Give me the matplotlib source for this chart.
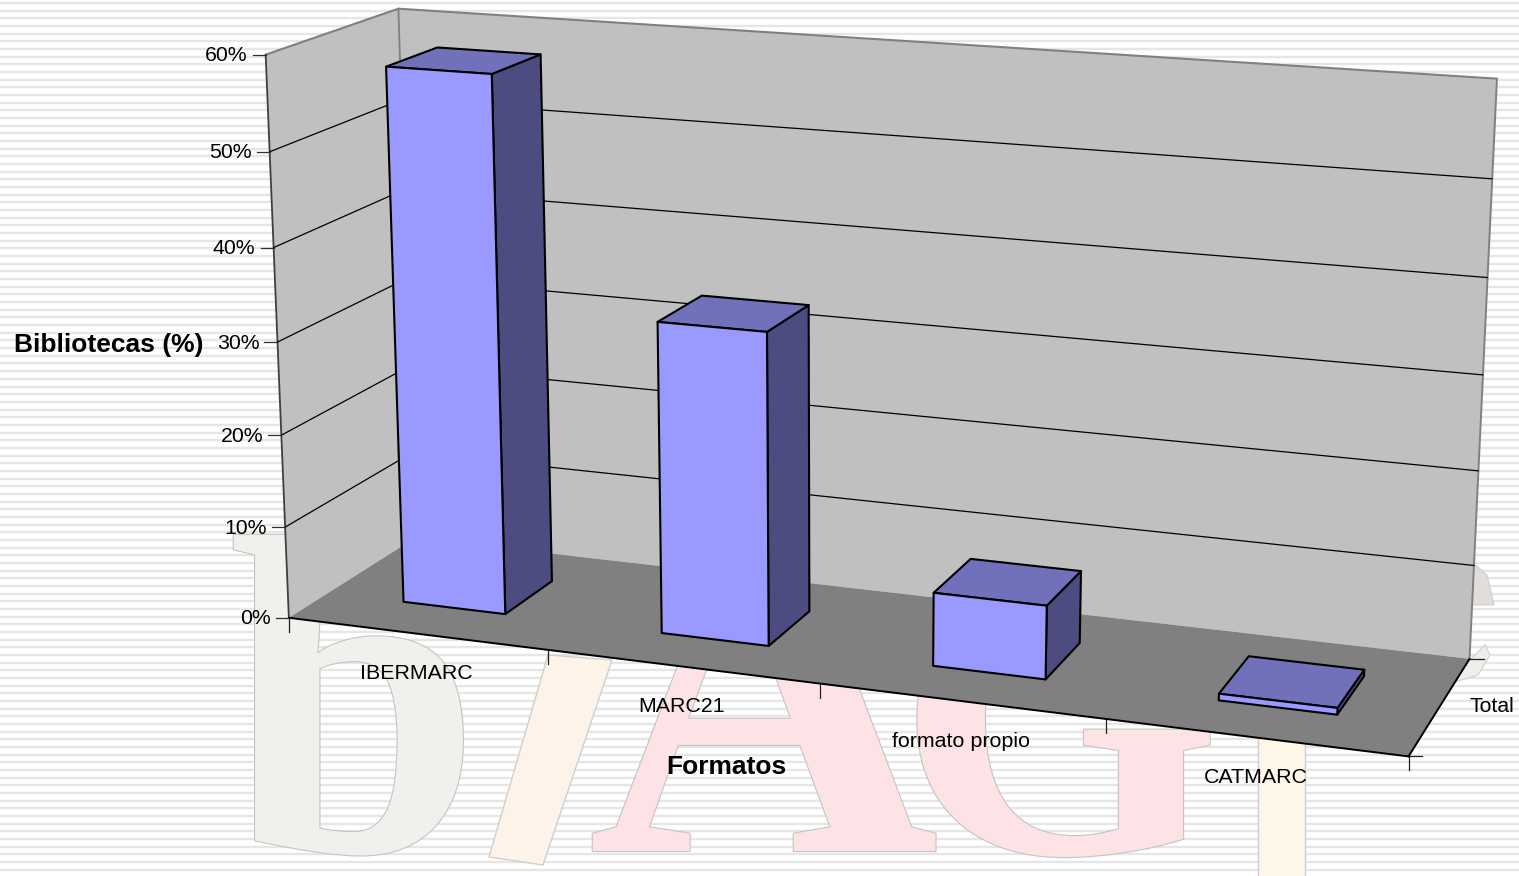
import numpy as np
import matplotlib
matplotlib.use('Agg')
import matplotlib.pyplot as plt
from matplotlib.patches import Polygon
import matplotlib.patheffects as pe

categories = ['IBERMARC', 'MARC21', 'formato propio', 'CATMARC']
values = [57.8, 33.4, 7.8, 0.7]
value_ticks = [0, 10, 20, 30, 40, 50, 60]
series_name = 'Total'

BAR_W = 0.4
BAR_D = 0.4

WALL = '#C0C0C0'
FLOOR = '#808080'
FRONT = '#9999FF'
TOP = '#7070BB'
SIDE = '#4C4C80'
FONT = 'Liberation Sans'

# chart box corners (slot, depth, value) -> picture pixels
box = [(0, 0, 0), (4, 0, 0), (4, 1, 0), (0, 1, 0), (0, 0, 60), (0, 1, 60), (4, 1, 60)]
px = [(289, 617), (1408, 758), (1470, 657), (415, 539), (266, 54), (398, 9), (1497, 79)]


def fit_camera(src, dst):
    rows, rhs = [], []
    for (x, d, v), (u, w) in zip(src, dst):
        rows.append([x, d, v, 1, 0, 0, 0, 0, -u * x, -u * d, -u * v])
        rows.append([0, 0, 0, 0, x, d, v, 1, -w * x, -w * d, -w * v])
        rhs += [u, w]
    m = np.linalg.lstsq(np.array(rows, float), np.array(rhs, float), rcond=None)[0]
    return np.append(m, 1).reshape(3, 4)


CAM = fit_camera(box, px)


def proj(x, d, v):
    p = CAM @ np.array([x, d, v, 1.0])
    return p[0] / p[2], p[1] / p[2]


fig = plt.figure(figsize=(15.19, 8.76), dpi=100, facecolor='white')
ax = fig.add_axes([0, 0, 1, 1])
ax.set_xlim(0, 1519)
ax.set_ylim(876, 0)
ax.axis('off')

# slide background: stripes and the big pale logo letters
for y in np.arange(3, 876, 7.67):
    ax.plot([0, 1519], [y, y], color='#E6E6E6', lw=1.7, zorder=0)

edge = [pe.withStroke(linewidth=1.6, foreground='#C4C4C4')]
logo = dict(family='Liberation Serif', weight='bold', zorder=1, path_effects=edge)
ax.text(228, 851, 'b', fontsize=328, color='#F0F0EC', **logo)
ax.add_patch(Polygon([(489, 857), (543, 865), (612, 660), (548, 655)], fc='#FDF3E8', ec='#CFCFCF', lw=1, zorder=1))
ax.text(588, 851, 'A', fontsize=350, color='#FDE3E5', **logo)
ax.text(897, 853, 'G', fontsize=300, color='#FDE3E5', **logo)
ax.add_patch(Polygon([(1258, 730), (1305, 730), (1305, 880), (1258, 880)], fc='#FEF6E6', ec='#CFCFCF', lw=1, zorder=1))
ax.add_patch(Polygon([(1472, 562), (1487, 575), (1494, 605), (1472, 605)], fc='#E2DDD8', ec='#CFCFCF', lw=0.8, zorder=1))
ax.add_patch(Polygon([(1485, 645), (1490, 655), (1478, 675), (1455, 682), (1470, 660)], fc='#EFEFEA', ec='#CFCFCF', lw=0.8, zorder=1))


def face(points, color, z=3, ec='none', lw=0):
    ax.add_patch(Polygon([proj(*p) for p in points], closed=True, fc=color, ec=ec, lw=lw, zorder=z, joinstyle='round'))


def seg(a, b, color='black', lw=0.9, z=4):
    (x0, y0), (x1, y1) = proj(*a), proj(*b)
    ax.plot([x0, x1], [y0, y1], color=color, lw=lw, zorder=z, solid_capstyle='round')


# walls and floor
face([(0, 1, 0), (4, 1, 0), (4, 1, 60), (0, 1, 60)], WALL)
face([(0, 0, 0), (0, 1, 0), (0, 1, 60), (0, 0, 60)], WALL)
face([(0, 0, 0), (4, 0, 0), (4, 1, 0), (0, 1, 0)], FLOOR)

seg((0, 0, 60), (0, 1, 60), FLOOR, 1.5)
seg((0, 1, 60), (4, 1, 60), FLOOR, 1.5)
seg((0, 1, 60), (0, 1, 0), FLOOR, 1.3)
seg((4, 1, 60), (4, 1, 0), FLOOR, 1.4)
seg((0, 0, 60), (0, 0, 0), '#404040', 1.3)
seg((0, 0, 0), (4, 0, 0), 'black', 1.4)
seg((4, 0, 0), (4, 1, 0), 'black', 1.4)

# gridlines, value ticks and labels
for v in value_ticks:
    if 0 < v < 60:
        seg((0, 0, v), (0, 1, v))
        seg((0, 1, v), (4, 1, v))
    u, w = proj(0, 0, v)
    ax.plot([u - 13, u], [w, w], color='#303030', lw=0.9, zorder=4)
    ax.text(u - 18, w + 1, f'{v}%', ha='right', va='center', family=FONT, fontsize=15.3, color='black', zorder=6)

# category ticks
for i in range(len(categories) + 1):
    u, w = proj(i, 0, 0)
    ax.plot([u, u], [w, w + 14], color='#202020', lw=0.9, zorder=2)
u, w = proj(4, 0, 0)
ax.plot([u, u + 13], [w, w], color='#202020', lw=0.9, zorder=2)
u, w = proj(4, 1, 0)
ax.plot([u, u + 14], [w, w], color='#202020', lw=0.9, zorder=2)

# bars do not overlap each other so the order does not matter
for i, val in enumerate(values):
    x0, x1 = i + 0.5 - BAR_W / 2, i + 0.5 + BAR_W / 2
    d0, d1 = 0.5 - BAR_D / 2, 0.5 + BAR_D / 2
    ec = dict(ec='black', lw=1.5, z=5)
    face([(x1, d0, 0), (x1, d1, 0), (x1, d1, val), (x1, d0, val)], SIDE, **ec)
    face([(x0, d0, val), (x1, d0, val), (x1, d1, val), (x0, d1, val)], TOP, **ec)
    face([(x0, d0, 0), (x1, d0, 0), (x1, d0, val), (x0, d0, val)], FRONT, **ec)

    u, w = proj(i + 0.5, 0, 0)
    ax.text(u, w + 40, categories[i], ha='center', va='center', family=FONT, fontsize=15.4, zorder=6)

ax.text(1469, 707, series_name, ha='left', va='center', family=FONT, fontsize=15.3, zorder=6)
ax.text(108.5, 345, 'Bibliotecas (%)', ha='center', va='center', family=FONT, fontsize=19, weight='bold', zorder=6)
ax.text(726.5, 767, 'Formatos', ha='center', va='center', family=FONT, fontsize=19, weight='bold', zorder=6)

fig.savefig('out.png', dpi=100)
